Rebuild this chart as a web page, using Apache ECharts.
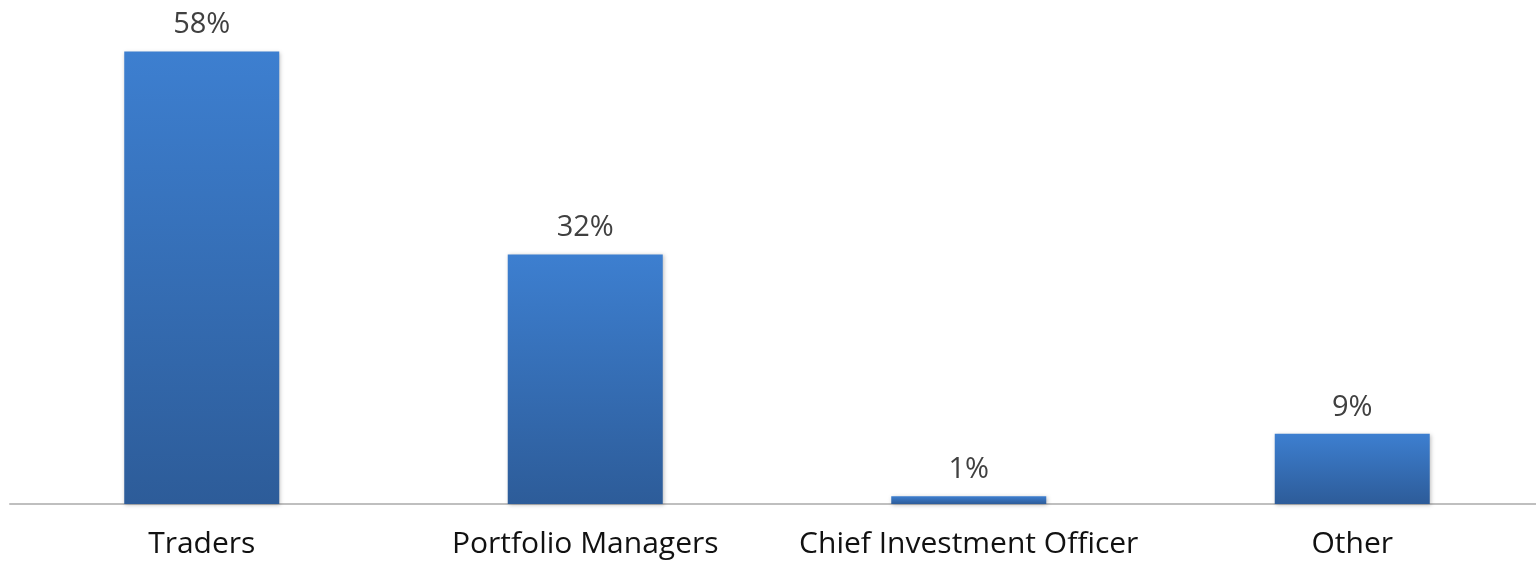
<!DOCTYPE html>
<html>
<head>
<meta charset="utf-8">
<script src="https://cdn.jsdelivr.net/npm/echarts@6/dist/echarts.min.js"></script>
<style>
  html, body { margin: 0; padding: 0; background: #fff; overflow: hidden; }
  #chart { width: 1544px; height: 561px; }
</style>
</head>
<body>
<div id="chart"></div>
<script>
// values
const categories = ['Traders', 'Portfolio Managers', 'Chief Investment Officer', 'Other'];
const shares = [58, 32, 1, 9];

const chart = echarts.init(document.getElementById('chart'));

const barColor = new echarts.graphic.LinearGradient(0, 0, 0, 1, [
    { offset: 0, color: '#3d7fd0' },
    { offset: 1, color: '#2d5c99' }
]);

// the plot runs a little past the right edge of the window, as in the original
chart.setOption({
    backgroundColor: '#fff',
    animation: false,
    grid: { left: 10, right: 0, top: 36, height: 468, containLabel: false },
    xAxis: {
        type: 'category',
        data: categories,
        axisLine: { lineStyle: { color: '#bfbfbf', width: 2 } },
        axisTick: { show: false },
        axisLabel: {
            interval: 0,
            margin: 25,
            color: '#111',
            fontSize: 30,
            fontFamily: 'Open Sans'
        }
    },
    yAxis: {
        type: 'value',
        min: 0,
        max: 60,
        show: false,
        splitLine: { show: false }
    },
    series: [{
        type: 'bar',
        data: shares,
        barWidth: 155,
        itemStyle: {
            color: barColor,
            shadowColor: 'rgba(0,0,0,0.25)',
            shadowBlur: 4,
            shadowOffsetX: 1,
            shadowOffsetY: 1
        },
        label: {
            show: true,
            position: 'top',
            distance: 12,
            formatter: '{c}%',
            color: '#404040',
            fontSize: 29,
            fontFamily: 'Open Sans'
        }
    }]
});
</script>
</body>
</html>
